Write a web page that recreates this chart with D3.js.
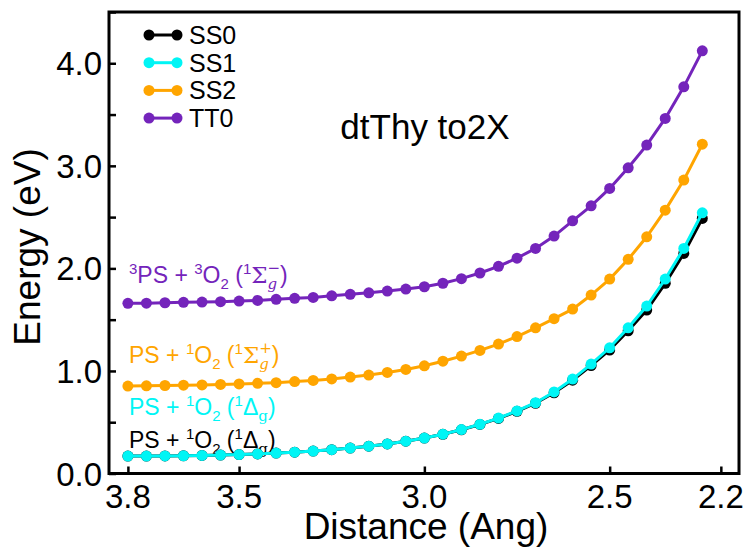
<!DOCTYPE html>
<html>
<head>
<meta charset="utf-8">
<script src="https://cdn.jsdelivr.net/npm/d3@7"></script>
<style>
  html, body { margin: 0; padding: 0; background: #fff; }
  svg { display: block; font-family: "Liberation Sans", Arial, Helvetica, sans-serif; }
  .keep { white-space: pre; }
</style>
</head>
<body>
<svg id="chart" width="749" height="548"></svg>
<script>
// O–O distance scan (Å) and state energies (eV)
const distance = [3.80, 3.75, 3.70, 3.65, 3.60, 3.55, 3.50, 3.45, 3.40, 3.35, 3.30, 3.25,
                  3.20, 3.15, 3.10, 3.05, 3.00, 2.95, 2.90, 2.85, 2.80, 2.75, 2.70, 2.65,
                  2.60, 2.55, 2.50, 2.45, 2.40, 2.35, 2.30, 2.25];
const ss0 = [0.170, 0.170, 0.171, 0.173, 0.176, 0.180, 0.185, 0.191, 0.199, 0.208, 0.219, 0.232,
             0.248, 0.266, 0.288, 0.315, 0.346, 0.382, 0.426, 0.478, 0.537, 0.606, 0.685, 0.787,
             0.910, 1.053, 1.204, 1.392, 1.594, 1.854, 2.146, 2.487];
const ss1 = [0.170, 0.170, 0.171, 0.173, 0.176, 0.180, 0.185, 0.191, 0.199, 0.208, 0.219, 0.232,
             0.248, 0.266, 0.288, 0.315, 0.346, 0.383, 0.428, 0.480, 0.540, 0.610, 0.690, 0.795,
             0.921, 1.067, 1.226, 1.421, 1.633, 1.896, 2.195, 2.542];
const ss2 = [0.853, 0.855, 0.858, 0.861, 0.864, 0.868, 0.873, 0.879, 0.886, 0.896, 0.908, 0.922,
             0.940, 0.960, 0.985, 1.015, 1.050, 1.095, 1.145, 1.200, 1.262, 1.335, 1.420, 1.510,
             1.603, 1.740, 1.896, 2.088, 2.308, 2.568, 2.861, 3.211];
const tt0 = [1.659, 1.661, 1.665, 1.669, 1.672, 1.675, 1.681, 1.688, 1.698, 1.708, 1.717, 1.733,
             1.747, 1.762, 1.779, 1.798, 1.821, 1.855, 1.900, 1.955, 2.020, 2.100, 2.195, 2.315,
             2.464, 2.610, 2.780, 2.981, 3.202, 3.462, 3.770, 4.121];

const seriesNames = ["SS0", "SS1", "SS2", "TT0"];
const seriesColors = ["#000000", "#00f5f5", "#ffa500", "#7424bb"];
const seriesValues = [ss0, ss1, ss2, tt0];

const xTicks = [3.8, 3.5, 3.0, 2.5, 2.2];
const yTicks = [0, 0.5, 1, 1.5, 2, 2.5, 3, 3.5, 4, 4.5];
const yLabels = ["0.0", "1.0", "2.0", "3.0", "4.0"];

const svg = d3.select("#chart");
const L = 109, R = 739, T = 12, B = 473.5;

const x = d3.scaleLinear().domain([3.851, 2.151]).range([L, R]);
const y = d3.scaleLinear().domain([0, 4.5]).range([B, T]);

// ticks pointing into the plot
const xAxis = d3.axisTop(x).tickValues(xTicks).tickSize(7).tickFormat("");
svg.append("g").attr("transform", `translate(0,${B})`).call(xAxis)
  .call(g => { g.select(".domain").remove(); g.selectAll("line").attr("stroke", "#000").attr("stroke-width", 2.5); });

const yAxis = d3.axisRight(y).tickValues(yTicks).tickSize(7).tickFormat("");
svg.append("g").attr("transform", `translate(${L},0)`).call(yAxis)
  .call(g => { g.select(".domain").remove(); g.selectAll("line").attr("stroke", "#000").attr("stroke-width", 2.5); });

// tick labels
svg.append("g").selectAll("text").data(xTicks).join("text")
  .attr("x", d => x(d)).attr("y", 508)
  .attr("text-anchor", "middle").attr("font-size", 33)
  .text(d => d3.format(".1f")(d));
svg.append("g").selectAll("text").data(yLabels).join("text")
  .attr("x", 102).attr("y", d => y(+d) + 12)
  .attr("text-anchor", "end").attr("font-size", 33)
  .text(d => d);

// axis titles
svg.append("text").attr("x", 426).attr("y", 539).attr("text-anchor", "middle")
  .attr("font-size", 37).text("Distance (Ang)");
svg.append("text").attr("transform", "translate(40,247) rotate(-90)").attr("text-anchor", "middle")
  .attr("font-size", 37).text("Energy (eV)");

// curves
const line = d3.line().x((d, i) => x(distance[i])).y(d => y(d));
const curves = svg.append("g");
seriesValues.forEach((vals, k) => {
  const g = curves.append("g");
  g.append("path").attr("d", line(vals)).attr("fill", "none")
    .attr("stroke", seriesColors[k]).attr("stroke-width", 3);
  g.selectAll("circle").data(vals).join("circle")
    .attr("cx", (d, i) => x(distance[i])).attr("cy", d => y(d)).attr("r", 5.5)
    .attr("fill", seriesColors[k]);
});

// frame
const frame = svg.append("rect").attr("x", L).attr("y", T).attr("width", R - L).attr("height", B - T)
  .attr("fill", "none").attr("stroke", "#000").attr("stroke-width", 3);

// legend
const legend = svg.append("g");
seriesNames.forEach((name, k) => {
  const ly = 35 + k * 27.7;
  legend.append("line").attr("x1", 149).attr("x2", 177).attr("y1", ly).attr("y2", ly)
    .attr("stroke", seriesColors[k]).attr("stroke-width", 3);
  [149, 177].forEach(cx => legend.append("circle").attr("cx", cx).attr("cy", ly).attr("r", 5.5)
    .attr("fill", seriesColors[k]));
  legend.append("text").attr("x", 189).attr("y", ly + 9).attr("font-size", 25).text(name);
});

// title
svg.append("text").attr("x", 425).attr("y", 139).attr("text-anchor", "middle")
  .attr("font-size", 35).text("dtThy to2X");

// state labels built from pieces: text, size, vertical shift, font, style, stacked
const SERIF = "'DejaVu Serif', 'Liberation Serif', serif";
function stateLabel(x0, y0, color, parts) {
  const g = svg.append("g").attr("fill", color);
  let cx = x0, prevX = x0;
  parts.forEach(p => {
    const px = p.stack ? prevX : cx;
    const t = g.append("text").attr("class", "keep").attr("x", px).attr("y", y0 + (p.dy || 0))
      .attr("font-size", p.size || 23).text(p.t);
    if (p.font) t.attr("font-family", p.font);
    if (p.style) t.attr("font-style", p.style);
    const w = t.node().getComputedTextLength();
    if (!p.stack) { prevX = cx; cx += w; }
    else { cx = Math.max(cx, px + w); }
  });
}
const sup = (t) => ({ t, size: 15, dy: -9 });
const sub = (t) => ({ t, size: 15, dy: 6 });

stateLabel(129, 283, seriesColors[3], [
  sup("3"), { t: "PS + " }, sup("3"), { t: "O" }, sub("2"), { t: " (" }, sup("1"),
  { t: "Σ", font: SERIF },
  { t: "g", size: 15, dy: 6, font: SERIF, style: "italic" },
  { t: "−", size: 15, dy: -10, font: SERIF, stack: true },
  { t: ")" }
]);
stateLabel(129, 363, seriesColors[2], [
  { t: "PS + " }, sup("1"), { t: "O" }, sub("2"), { t: " (" }, sup("1"),
  { t: "Σ", font: SERIF },
  { t: "g", size: 15, dy: 6, font: SERIF, style: "italic" },
  { t: "+", size: 15, dy: -10, font: SERIF, stack: true },
  { t: ")" }
]);
stateLabel(129, 415, seriesColors[1], [
  { t: "PS + " }, sup("1"), { t: "O" }, sub("2"), { t: " (" }, sup("1"),
  { t: "Δ" }, { t: "g", size: 15, dy: 6, font: SERIF }, { t: ")" }
]);
stateLabel(129, 448, seriesColors[0], [
  { t: "PS + " }, sup("1"), { t: "O" }, sub("2"), { t: " (" }, sup("1"),
  { t: "Δ" }, { t: "g", size: 15, dy: 6, font: SERIF }, { t: ")" }
]);

// keep curves and frame above the labels where they overlap
curves.raise();
frame.raise();
</script>
</body>
</html>
